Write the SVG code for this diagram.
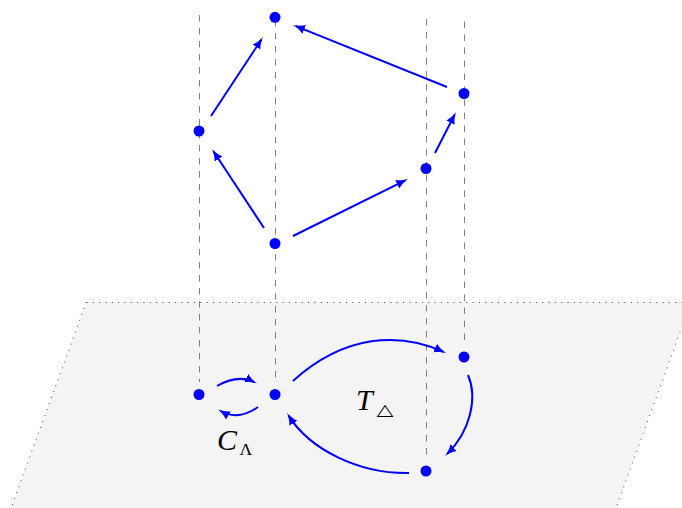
<svg xmlns="http://www.w3.org/2000/svg" width="682" height="508" viewBox="0 0 682 508">
<style>
.dash{stroke:#808080;stroke-width:1;stroke-dasharray:6.5 6.5;fill:none}
.plane{fill:#f4f4f4;stroke:none}
.dot{stroke:#444;stroke-width:1;stroke-dasharray:1 5.33;fill:none}
.edge{stroke:#0000ff;stroke-width:2;fill:none;marker-end:url(#arr)}
.node{fill:#0000ff}
.lbl{font-family:"Liberation Serif",serif;font-style:italic;fill:#000}
.sub{font-family:"DejaVu Sans",sans-serif;fill:#000}
.subg{font-family:"Liberation Serif",serif;fill:#000}
</style>
<defs>
<marker id="arr" markerUnits="userSpaceOnUse" markerWidth="13" markerHeight="11" viewBox="0 0 13 11" refX="9" refY="5.5" orient="auto">
<path d="M0,0.8 C3.5,3.3 8,4.8 12,5.5 C8,6.2 3.5,7.7 0,10.2 Z" fill="#0000ff"/>
</marker>
</defs>
<g id="plane">
<polygon class="plane" points="86.5,302 691,302 616,508 11,508"/>
<path class="dot" d="M86.5,302.5 L691,302.5 M86.5,302 L11,508 M691,302 L616,508"/>
</g>
<g id="projections">
<line class="dash" x1="199.5" y1="15" x2="199.5" y2="382"/>
<line class="dash" x1="275.5" y1="20" x2="275.5" y2="382"/>
<line class="dash" x1="426.5" y1="19" x2="426.5" y2="459"/>
<line class="dash" x1="464.5" y1="21.5" x2="464.5" y2="345"/>
</g>
<g id="connectors">
<path class="edge" d="M211,116 L261.4,39.5"/>
<path class="edge" d="M264,228 L213.6,151.5"/>
<path class="edge" d="M293,236 L405.3,180.3"/>
<path class="edge" d="M435,153 L454.6,114.7"/>
<path class="edge" d="M447,87 L295.8,26.1"/>
<path class="edge" d="M217,386 Q238,374 254.3,382.2"/>
<path class="edge" d="M258,407 Q238,421 220.6,411"/>
<path class="edge" d="M293,381 C345,334 400,332 443.3,351.8"/>
<path class="edge" d="M468,375 C478,398 470,432 447.2,453.9"/>
<path class="edge" d="M409,473 C360,474 310,450 288.6,415.6"/>
</g>
<g id="nA"><circle class="node" cx="275" cy="17.3" r="5.5"/></g>
<g id="nB"><circle class="node" cx="199" cy="131" r="5.5"/></g>
<g id="nC"><circle class="node" cx="275" cy="243.5" r="5.5"/></g>
<g id="nD"><circle class="node" cx="426" cy="168.5" r="5.5"/></g>
<g id="nE"><circle class="node" cx="464" cy="93.5" r="5.5"/></g>
<g id="nF"><circle class="node" cx="199" cy="394.5" r="5.5"/></g>
<g id="nG"><circle class="node" cx="275" cy="394.5" r="5.5"/></g>
<g id="nH"><circle class="node" cx="464" cy="357" r="5.5"/></g>
<g id="nI"><circle class="node" cx="426" cy="471" r="5.5"/></g>
<g id="labelT">
<text class="lbl" x="356" y="409.5" font-size="30">T</text>
<text class="sub" x="376.5" y="415" font-size="16" textLength="17" lengthAdjust="spacingAndGlyphs">△</text>
</g>
<g id="labelC">
<text class="lbl" x="217" y="449.5" font-size="30">C</text>
<text class="subg" x="239.5" y="454.5" font-size="17.5">Λ</text>
</g>
</svg>
